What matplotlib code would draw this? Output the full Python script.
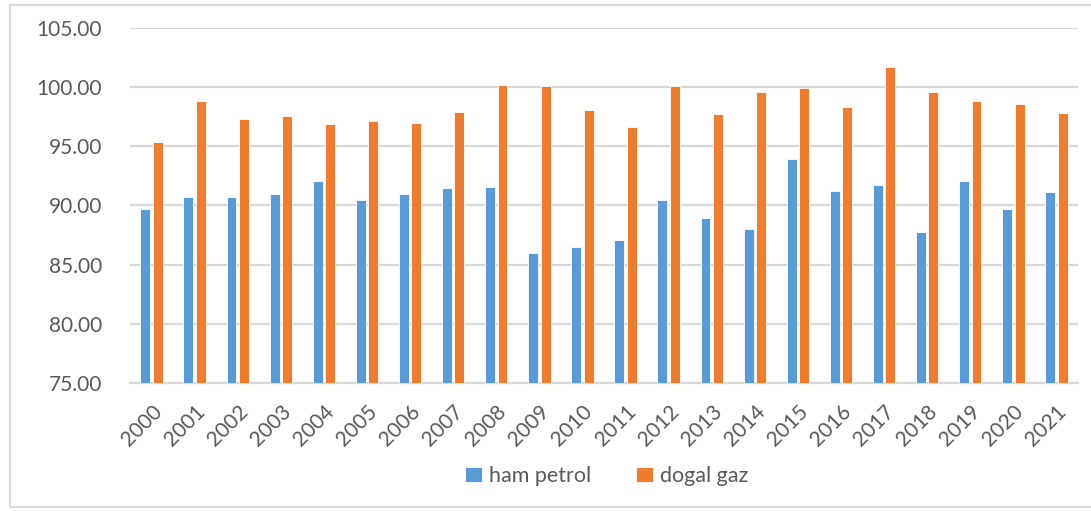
import matplotlib
matplotlib.use("Agg")
import matplotlib.pyplot as plt
import numpy as np
from matplotlib.patches import Rectangle

years = [str(y) for y in range(2000, 2022)]
ham_petrol = [89.69, 90.70, 90.76, 90.98, 92.05, 90.48, 90.93, 91.46, 91.55, 85.97, 86.47,
              87.10, 90.45, 88.93, 88.00, 93.93, 91.21, 91.74, 87.80, 92.11, 89.74, 91.10]
dogal_gaz = [95.34, 98.87, 97.33, 97.55, 96.88, 97.16, 96.96, 97.89, 100.18, 100.06, 98.09,
             96.62, 100.11, 97.75, 99.58, 99.94, 98.31, 101.69, 99.61, 98.82, 98.59, 97.80]

plt.rcParams['font.family'] = ['Lato', 'DejaVu Sans']
W, H = 1091, 511
fig = plt.figure(figsize=(W / 100, H / 100), dpi=100)
ax = fig.add_axes([130 / W, 1 - 383 / H, (1078 - 130) / W, (383 - 28) / H])

x = np.arange(len(years))
bw = 0.23
off = 0.145
ax.bar(x - off, [v - 75 for v in ham_petrol], bw, bottom=75, color='#5B9BD5',
       edgecolor='white', linewidth=0.6, label='ham petrol', zorder=3)
ax.bar(x + off, [v - 75 for v in dogal_gaz], bw, bottom=75, color='#ED7D31',
       edgecolor='white', linewidth=0.6, label='dogal gaz', zorder=3)

ax.set_xlim(-0.5, len(years) - 0.5)
ax.set_ylim(75, 105)
ax.set_yticks(np.arange(75, 105.1, 5))
ax.set_yticklabels([f"{v:.2f}" for v in np.arange(75, 105.1, 5)])
ax.set_xticks(x)
ax.set_xticklabels(years, rotation=45, ha='right', rotation_mode='anchor')
ax.tick_params(axis='both', length=0, labelsize=15, colors='#595959')
ax.tick_params(axis='y', pad=20)
ax.tick_params(axis='x', pad=13)
ax.grid(axis='y', color='#d9d9d9', linewidth=1.6, zorder=0)
ax.set_axisbelow(True)
for s in ['top', 'right', 'left']:
    ax.spines[s].set_visible(False)
ax.spines['bottom'].set_color('#d9d9d9')
ax.spines['bottom'].set_linewidth(1.6)

leg = fig.legend(loc='center', bbox_to_anchor=(607 / W, 1 - 476 / H), ncol=2, frameon=False,
                 fontsize=15.5, handlelength=0.75, handleheight=0.75, handletextpad=0.35,
                 columnspacing=2.1)
for t in leg.get_texts():
    t.set_color('#595959')

fig.patches.append(Rectangle((10 / W, 1 - 507 / H), (1100 - 10) / W, (507 - 5) / H,
                             transform=fig.transFigure, fill=False,
                             edgecolor='#d9d9d9', linewidth=1.5))

fig.savefig('out.png', dpi=100)
